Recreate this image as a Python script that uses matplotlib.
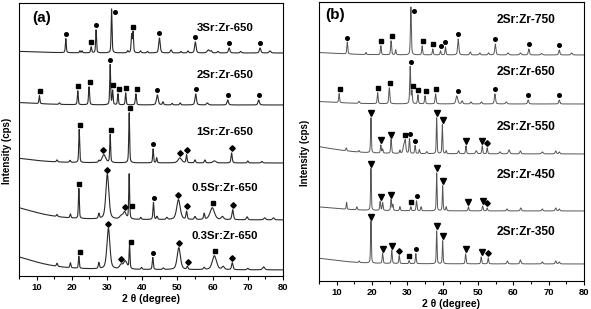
import numpy as np
import matplotlib
matplotlib.use("Agg")
import matplotlib.pyplot as plt
from matplotlib.ticker import MultipleLocator

plt.rcParams['font.family'] = ['Liberation Sans', 'DejaVu Sans']
plt.rcParams['font.weight'] = 'bold'

# peaks: (2theta, height, fwhm); first entry of each list is the low-angle background hump
# heights are in plot units (about one pixel each)

# ---- panel (a): xSr:Zr-650 ----
names_a = ['3Sr:Zr-650', '2Sr:Zr-650', '1Sr:Zr-650', '0.5Sr:Zr-650', '0.3Sr:Zr-650']
base_a = [223, 171, 113, 56, 6]
label_y_a = [248, 201, 144, 88, 40]

peaks_3sr = [(0, 2, 20), (18.3, 14, 0.3), (22.3, 2, 0.3), (22.9, 2, 0.3), (25.5, 6, 0.35),
             (26.9, 23, 0.3), (31.3, 44, 0.3), (35.9, 2, 0.4), (37.0, 18, 0.35), (37.4, 20, 0.3),
             (39.5, 2, 0.4), (41.5, 1.5, 0.4), (44.9, 15, 0.5), (48.2, 3, 0.5), (51.0, 1.5, 0.4),
             (53.0, 2, 0.4), (55.1, 11, 0.5), (58.8, 3, 0.8), (59.6, 2, 0.5), (61.5, 1.5, 0.5),
             (64.7, 5, 0.5), (68.0, 1.5, 0.5), (73.5, 5, 0.5), (76.3, 2, 0.6)]
peaks_2sr = [(0, 3, 20), (10.8, 8, 0.3), (16.5, 1.5, 0.4), (21.7, 14, 0.3), (24.9, 18, 0.35),
             (30.9, 40, 0.3), (31.6, 14, 0.3), (33.1, 11, 0.3), (35.3, 12, 0.3), (38.2, 11, 0.35),
             (44.3, 10, 0.6), (45.9, 3, 0.4), (48.5, 1.5, 0.4), (50.8, 2, 0.4), (55.2, 11, 0.5),
             (58.5, 2, 0.6), (64.3, 5, 0.5), (73.1, 5, 0.5)]
peaks_1sr = [(0, 6, 18), (15.8, 2, 0.4), (19.5, 2, 0.4), (22.1, 33, 0.3), (27.7, 2, 0.4),
             (29.1, 8, 1.2), (30.9, 28, 0.3), (36.3, 50, 0.3), (43.1, 14, 0.3), (44.1, 5, 0.3),
             (50.7, 5, 1.2), (52.6, 8, 0.35), (55.0, 3, 0.4), (57.8, 3, 0.4), (60.5, 2, 1.0),
             (65.4, 10, 0.4), (70.0, 2, 0.4), (74.0, 1.5, 0.5)]
peaks_05sr = [(0, 15, 20), (15.8, 2, 0.4), (19.6, 4, 0.35), (22.0, 30, 0.3), (27.7, 5, 0.4),
              (30.1, 45, 1.0), (34.0, 3, 1.0), (35.0, 7, 1.0), (36.3, 45, 0.3), (39.6, 2, 0.4),
              (43.2, 17, 0.35), (44.2, 3, 0.4), (47.0, 2, 0.5), (50.3, 20, 1.2), (52.6, 8, 0.4),
              (55.0, 3, 0.5), (57.6, 6, 0.4), (59.9, 12, 1.5), (62.8, 3, 0.8), (65.7, 10, 0.5),
              (69.8, 3, 0.5), (74.8, 2, 0.6), (77.3, 2, 0.6)]
peaks_03sr = [(0, 16, 20), (15.8, 3, 0.4), (19.6, 5, 0.35), (22.0, 12, 0.3), (27.7, 6, 0.4),
              (30.4, 41, 1.0), (34.0, 4, 1.0), (35.2, 8, 1.2), (36.4, 24, 0.3), (39.8, 2, 0.4),
              (43.0, 12, 0.35), (46.0, 1.5, 0.5), (50.4, 22, 1.1), (52.8, 3, 0.4), (57.6, 2, 0.5),
              (60.5, 14, 1.4), (63.0, 3, 0.8), (65.6, 7, 0.5), (70.0, 1.5, 0.5), (74.5, 3, 0.7)]

marks_3sr = [(18.3, 'o'), (25.4, 's'), (27.0, 'o'), (31.3, 'o'), (37.5, 's'), (44.9, 'o'),
             (55.1, 'o'), (64.7, 'o'), (73.5, 'o')]
marks_2sr = [(11.1, 's'), (21.9, 's'), (25.1, 's'), (30.9, 'o'), (31.8, 's'), (33.4, 's'),
             (35.5, 's'), (38.4, 's'), (44.3, 'o'), (55.2, 'o'), (64.3, 'o'), (73.1, 'o')]
marks_1sr = [(22.3, 's'), (29.0, 'D'), (31.1, 's'), (36.4, 's'), (43.1, 'o'), (50.7, 'D'),
             (52.6, 'D'), (65.4, 'D')]
marks_05sr = [(22.0, 's'), (30.1, 'D'), (35.0, 'D'), (37.0, 's'), (43.3, 'o'), (50.3, 'D'),
              (52.6, 'D'), (60.0, 's'), (65.9, 'D')]
marks_03sr = [(22.2, 's'), (30.4, 'D'), (34.0, 'D'), (36.9, 's'), (43.0, 'o'), (50.5, 'D'),
              (52.9, 'D'), (60.6, 's'), (65.6, 'D')]

# ---- panel (b): 2Sr:Zr at different temperatures ----
names_b = ['2Sr:Zr-750', '2Sr:Zr-650', '2Sr:Zr-550', '2Sr:Zr-450', '2Sr:Zr-350']
base_b = [226, 177, 127, 70, 17]
label_y_b = [261, 209, 154, 106, 49]

peaks_750 = [(0, 3, 20), (13.0, 12, 0.3), (18.3, 2, 0.3), (22.5, 9, 0.3), (25.4, 14, 0.3),
             (26.7, 5, 0.3), (31.0, 48, 0.3), (34.2, 9, 0.3), (37.2, 6, 0.3), (39.4, 4, 0.3),
             (40.8, 8, 0.3), (44.4, 16, 0.4), (47.8, 3, 0.4), (50.5, 2, 0.4), (53.0, 2, 0.4),
             (54.9, 11, 0.4), (58.5, 2, 0.5), (62.0, 2, 0.5), (64.4, 6, 0.4), (68.0, 1.5, 0.5),
             (73.0, 5, 0.4), (76.5, 2, 0.5)]
peaks_650 = [(0, 3, 20), (10.7, 9, 0.3), (16.3, 2, 0.4), (21.6, 11, 0.3), (24.9, 16, 0.35),
             (30.8, 37, 0.3), (31.3, 12, 0.3), (33.0, 9, 0.3), (35.0, 8, 0.3), (38.0, 10, 0.35),
             (44.0, 8, 0.6), (45.5, 3, 0.4), (48.0, 2, 0.4), (51.0, 2, 0.4), (54.8, 10, 0.4),
             (58.0, 2, 0.5), (64.2, 4, 0.4), (73.0, 4, 0.4)]
peaks_550 = [(0, 9, 20), (12.7, 3, 0.3), (16.3, 1.5, 0.3), (19.7, 35, 0.25), (22.5, 8, 0.3),
             (23.0, 4, 0.3), (25.4, 14, 0.3), (27.9, 3, 0.3), (29.0, 8, 0.5), (29.4, 12, 0.4),
             (30.6, 15, 0.3), (32.2, 8, 0.3), (33.4, 4, 0.3), (35.5, 2, 0.4), (38.3, 36, 0.25),
             (39.9, 29, 0.25), (41.0, 3, 0.3), (44.5, 3, 0.4), (46.6, 8, 0.3), (49.5, 3, 0.5),
             (51.2, 8, 0.3), (52.6, 6, 0.3), (56.2, 2, 0.5), (58.8, 4, 0.5), (62.0, 3, 0.4),
             (68.2, 2, 0.5), (72.0, 3, 0.4), (73.0, 2, 0.4)]
peaks_450 = [(0, 5, 20), (12.8, 7, 0.25), (15.7, 3, 0.3), (19.7, 42, 0.25), (22.3, 9, 0.3),
             (23.0, 8, 0.3), (25.4, 11, 0.3), (25.9, 6, 0.3), (27.9, 4, 0.3), (31.0, 4, 0.3),
             (32.6, 10, 0.3), (33.9, 4, 0.3), (38.3, 38, 0.25), (40.0, 25, 0.25), (41.0, 4, 0.3),
             (47.3, 4, 0.3), (51.3, 5, 0.3), (52.6, 3, 0.3), (58.2, 2, 0.4), (62.1, 3, 0.4),
             (68.2, 2, 0.4), (72.0, 3, 0.4), (73.0, 2, 0.4)]
peaks_350 = [(0, 7, 20), (16.4, 1.5, 0.3), (19.7, 42, 0.25), (23.0, 10, 0.3), (25.6, 13, 0.3),
             (27.7, 8, 0.3), (30.5, 3, 0.3), (32.4, 10, 0.3), (38.3, 33, 0.25), (40.0, 23, 0.25),
             (46.5, 10, 0.3), (50.9, 7, 0.3), (52.9, 6, 0.3), (58.3, 3, 0.4), (62.0, 4, 0.4),
             (68.2, 2, 0.4), (72.0, 3, 0.4), (73.0, 2, 0.4)]

marks_750 = [(13.0, 'o'), (22.5, 's'), (25.7, 's'), (31.0, 'o'), (34.3, 's'), (37.4, 's'),
             (39.4, 'o'), (40.8, 'o'), (44.4, 'o'), (54.9, 'o'), (64.4, 'o'), (73.0, 'o')]
marks_650 = [(10.9, 's'), (21.8, 's'), (25.2, 's'), (31.0, 'o'), (31.6, 's'), (33.1, 's'),
             (35.3, 's'), (38.1, 's'), (44.3, 'o'), (54.8, 'o'), (64.2, 'o'), (73.0, 'o')]
marks_550 = [(19.8, 'v'), (22.5, 'v'), (25.4, 'v'), (29.3, 's'), (30.8, 'o'), (32.2, 'o'),
             (38.3, 'v'), (40.0, 'v'), (46.7, 'v'), (51.2, 'v'), (52.6, 'D')]
marks_450 = [(19.7, 'v'), (22.5, 'v'), (25.5, 'v'), (31.0, 's'), (32.7, 'o'), (38.3, 'v'),
             (40.0, 'v'), (47.3, 'v'), (51.3, 'v'), (52.6, 'D')]
marks_350 = [(19.7, 'v'), (23.0, 'v'), (25.6, 'v'), (27.7, 'D'), (30.5, 's'), (32.4, 'o'),
             (38.3, 'v'), (40.0, 'v'), (46.5, 'v'), (51.0, 'v'), (52.9, 'D')]

peaks_a = [peaks_3sr, peaks_2sr, peaks_1sr, peaks_05sr, peaks_03sr]
marks_a = [marks_3sr, marks_2sr, marks_1sr, marks_05sr, marks_03sr]
peaks_b = [peaks_750, peaks_650, peaks_550, peaks_450, peaks_350]
marks_b = [marks_750, marks_650, marks_550, marks_450, marks_350]

tt = np.linspace(5, 80, 4000)


def pattern(peaks, base):
    y = np.full_like(tt, float(base))
    for pos, h, w in peaks:
        hw = w / 2.0
        lor = 1.0 / (1.0 + ((tt - pos) / hw) ** 2)
        gau = np.exp(-np.log(2) * ((tt - pos) / hw) ** 2)
        y += h * (0.5 * lor + 0.5 * gau)
    return y


msize = {'o': 2.6, 's': 3.4, 'D': 2.8, 'v': 4.0}


def draw_panel(ax, names, bases, label_y, peaks_all, marks_all, ymax, color, lw, lab_fs):
    for name, base, ly, pk, mk in zip(names, bases, label_y, peaks_all, marks_all):
        y = pattern(pk, base)
        ax.plot(tt, y, color=color, lw=lw)
        for pos, sym in mk:
            win = (tt > pos - 0.45) & (tt < pos + 0.45)
            my = y[win].max() + 4.5
            mx = pos
            if my > ymax - 6:
                # no room above the tallest peaks: put the mark beside the top
                mx, my = pos + 1.0, ymax - 9
            ax.plot(mx, my, marker=sym, color='black',
                    ms=msize[sym], mec='black', ls='none')
        ax.text(63.5, ly, name, ha='center', va='center', fontsize=lab_fs, fontweight='bold')
    ax.set_xlim(5, 80)
    ax.set_ylim(0, ymax)
    ax.set_yticks([])
    ax.xaxis.set_major_locator(MultipleLocator(10))
    ax.xaxis.set_minor_locator(MultipleLocator(5))
    ax.tick_params(axis='x', which='major', direction='out', length=3, width=0.8,
                   labelsize=6.8, pad=2)
    ax.tick_params(axis='x', which='minor', direction='out', length=1.8, width=0.8)
    for lab in ax.get_xticklabels():
        lab.set_fontweight('bold')
    for sp in ax.spines.values():
        sp.set_linewidth(0.8)
    ax.set_xlabel('2 θ (degree)', fontsize=7.5, fontweight='bold', labelpad=1.5)
    ax.set_ylabel('Intensity (cps)', fontsize=7, fontweight='bold')


fig = plt.figure(figsize=(5.91, 3.09), dpi=100)
ax_a = fig.add_axes([19 / 591, 33 / 309, 264 / 591, 273 / 309])
ax_b = fig.add_axes([319 / 591, 28 / 309, 265 / 591, 279 / 309])

draw_panel(ax_a, names_a, base_a, label_y_a, peaks_a, marks_a, 273, '#2a2a2a', 0.8, 8.2)
draw_panel(ax_b, names_b, base_b, label_y_b, peaks_b, marks_b, 279, '#555555', 0.7, 8.6)

ax_a.yaxis.set_label_coords(-0.026, 0.46)
ax_b.yaxis.set_label_coords(-0.034, 0.46)
ax_a.text(0.05, 0.945, '(a)', transform=ax_a.transAxes, fontsize=11, fontweight='bold',
          va='center')
ax_b.text(0.023, 0.953, '(b)', transform=ax_b.transAxes, fontsize=11, fontweight='bold',
          va='center')

fig.savefig('out.png', dpi=100)
